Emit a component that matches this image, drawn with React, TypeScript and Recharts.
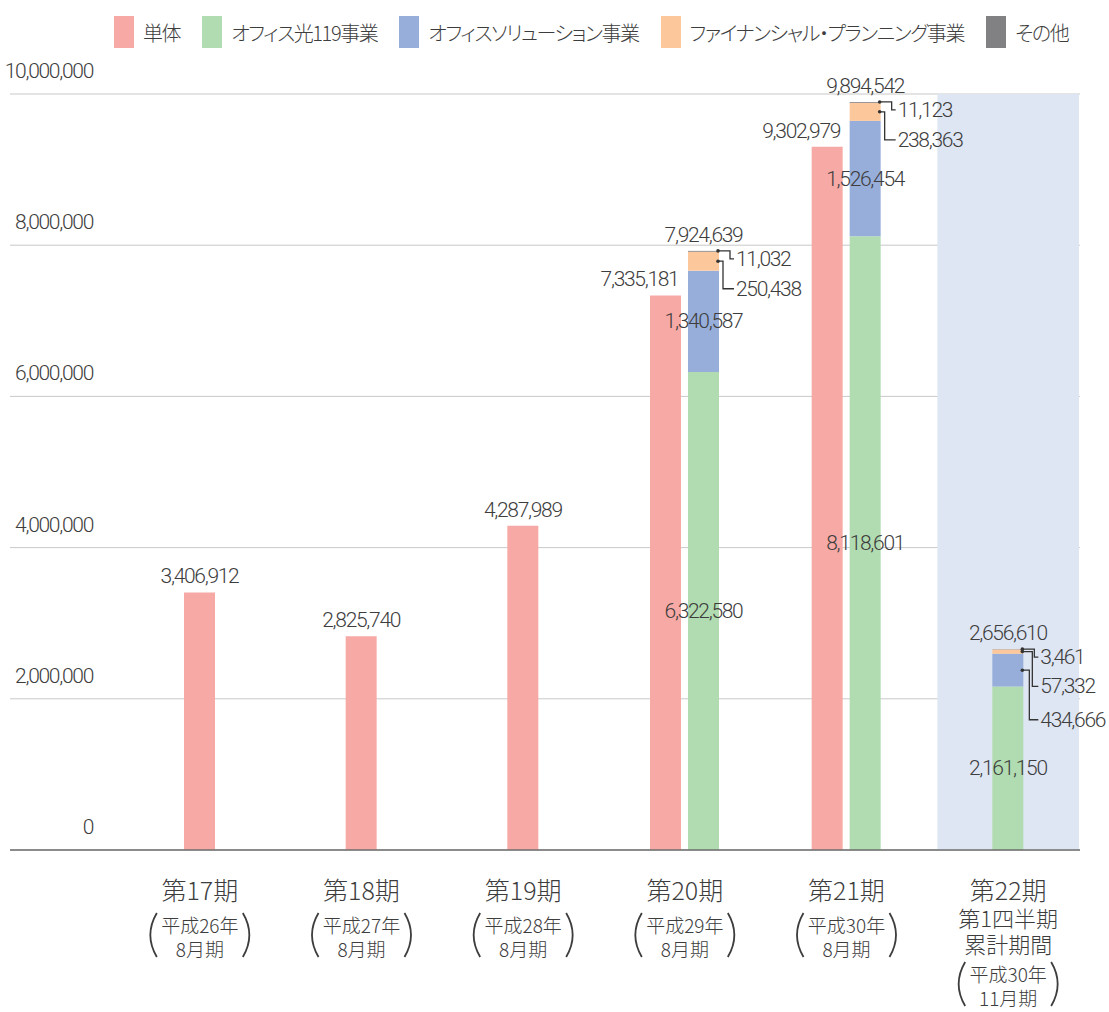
import React from 'react';
import { BarChart, Bar, XAxis, YAxis, CartesianGrid, Legend, LabelList, ReferenceArea } from 'recharts';

// ---- data ----
const periods = ['第17期', '第18期', '第19期', '第20期', '第21期', '第22期'];
const periodSubtitles: string[][] = [[], [], [], [], [], ['第1四半期', '累計期間']];
const periodNotes: string[][] = [
  ['平成26年', '8月期'],
  ['平成27年', '8月期'],
  ['平成28年', '8月期'],
  ['平成29年', '8月期'],
  ['平成30年', '8月期'],
  ['平成30年', '11月期'],
];
const tantai = [3406912, 2825740, 4287989, 7335181, 9302979, null];
const hikari119 = [null, null, null, 6322580, 8118601, 2161150];
const solution = [null, null, null, 1340587, 1526454, 434666];
const planning = [null, null, null, 250438, 238363, 57332];
const others = [null, null, null, 11032, 11123, 3461];
const totals = [null, null, null, 7924639, 9894542, 2656610];
const yTicks = [0, 2000000, 4000000, 6000000, 8000000, 10000000];
const highlightPeriod = '第22期';

const seriesKeys = ['tantai', 'hikari', 'solution', 'planning', 'others'] as const;
const seriesNames: Record<string, string> = {
  tantai: '単体',
  hikari: 'オフィス光119事業',
  solution: 'オフィスソリューション事業',
  planning: 'ファイナンシャル・プランニング事業',
  others: 'その他',
};
const COLORS: Record<string, string> = {
  tantai: '#f6a9a5',
  hikari: '#b1dbb0',
  solution: '#97aedb',
  planning: '#fcc89b',
  others: '#818184',
  shade: '#dfe6f3',
  text: '#3d3d3d',
};

// periods that have both 単体 and segment bars are drawn as a pair; others as a single centred bar
const rows = periods.map((period, i) => {
  const paired = tantai[i] != null && hikari119[i] != null;
  const s = (v: number | null) => (paired ? null : v);
  const p = (v: number | null) => (paired ? v : null);
  return {
    period,
    tantaiS: s(tantai[i]),
    hikariS: s(hikari119[i]),
    solutionS: s(solution[i]),
    planningS: s(planning[i]),
    othersS: s(others[i]),
    totalS: s(totals[i]),
    tantaiP: p(tantai[i]),
    hikariP: p(hikari119[i]),
    solutionP: p(solution[i]),
    planningP: p(planning[i]),
    othersP: p(others[i]),
    totalP: p(totals[i]),
  };
});

// ---- styles / label renderers ----
const numStyle: React.CSSProperties = {
  fontFamily: 'Roboto, "Liberation Sans", sans-serif',
  fontWeight: 300,
  fontSize: 21,
  fill: COLORS.text,
  letterSpacing: -1.3,
};
const cjk = '"Noto Sans CJK JP", "Noto Sans", sans-serif';
const fmt = (v: any) => Number(v).toLocaleString('en-US');
const box = (p: any) => {
  const v = p.viewBox && p.viewBox.width != null ? p.viewBox : p;
  return { x: Number(v.x), y: Number(v.y), width: Number(v.width), height: Number(v.height) };
};

const topLabel = (dx: number) => (p: any) => {
  if (p.value == null || p.value === '') return null;
  const { x, y, width } = box(p);
  return (
    <text x={x + width / 2 + dx} y={y - 16} textAnchor="middle" dominantBaseline="central" style={numStyle}>
      {fmt(p.value)}
    </text>
  );
};

const centerLabel = (p: any) => {
  if (p.value == null || p.value === '') return null;
  const { x, y, width, height } = box(p);
  return (
    <text x={x + width / 2} y={y + height / 2} textAnchor="middle" dominantBaseline="central" style={numStyle}>
      {fmt(p.value)}
    </text>
  );
};

const bracketLabel = (anchor: 'top' | 'mid', lineDx: number, labelDy: number, textDx: number) => (p: any) => {
  if (p.value == null || p.value === '') return null;
  const { x, y, width, height } = box(p);
  const xr = x + width;
  const yDot = anchor === 'top' ? y : y + height / 2;
  const ly = y + labelDy;
  return (
    <g>
      <circle cx={xr - 1} cy={yDot} r={1.8} fill="#333" />
      <path
        d={`M${xr - 1},${yDot} H${xr + lineDx} V${ly} H${xr + textDx - 2}`}
        fill="none"
        stroke="#333"
        strokeWidth={1.3}
      />
      <text x={xr + textDx} y={ly} textAnchor="start" dominantBaseline="central" style={numStyle}>
        {fmt(p.value)}
      </text>
    </g>
  );
};

const tickText = { fontFamily: cjk, fontWeight: 300 } as React.CSSProperties;

const PeriodTick = (props: any) => {
  const { x, y, payload } = props;
  const i = periods.indexOf(payload.value);
  const sub = periodSubtitles[i] || [];
  const note = periodNotes[i] || [];
  const noteTop = sub.length ? 104 : 55;
  const col = COLORS.text;
  return (
    <g>
      <text x={x} y={y + 31} textAnchor="middle" dominantBaseline="central" fill={col}
        style={{ ...tickText, fontSize: 25 }}>
        {payload.value}
      </text>
      {sub.map((s, k) => (
        <text key={k} x={x} y={y + 59 + k * 26} textAnchor="middle" dominantBaseline="central" fill={col}
          style={{ ...tickText, fontSize: 22 }}>
          {s}
        </text>
      ))}
      {note.map((s, k) => (
        <text key={'n' + k} x={x} y={y + noteTop + 11 + k * 24} textAnchor="middle" dominantBaseline="central"
          fill={col} style={{ ...tickText, fontSize: 19 }}>
          {s}
        </text>
      ))}
      <path d={`M${x - 43},${y + noteTop} Q${x - 56},${y + noteTop + 22} ${x - 43},${y + noteTop + 44}`}
        fill="none" stroke={col} strokeWidth={1.8} />
      <path d={`M${x + 43},${y + noteTop} Q${x + 56},${y + noteTop + 22} ${x + 43},${y + noteTop + 44}`}
        fill="none" stroke={col} strokeWidth={1.8} />
    </g>
  );
};

const ValueTick = (props: any) => {
  const { x, y, payload } = props;
  return (
    <text x={x + 75} y={y - 23} textAnchor="end" dominantBaseline="central" style={numStyle}>
      {fmt(payload.value)}
    </text>
  );
};

const LegendContent = () => (
  <div style={{ display: 'flex', alignItems: 'center', paddingLeft: 114 }}>
    {seriesKeys.map((k) => (
      <div key={k} style={{ display: 'flex', alignItems: 'center', marginRight: 22 }}>
        <div style={{ width: 20, height: 32, background: COLORS[k], marginRight: 9 }} />
        <span
          style={{
            fontFamily: cjk,
            fontWeight: 300,
            fontSize: 20,
            letterSpacing: -1.4,
            color: COLORS.text,
            fontFeatureSettings: '"palt" 1',
            whiteSpace: 'nowrap',
          }}
        >
          {seriesNames[k]}
        </span>
      </div>
    ))}
  </div>
);

const shadeShape = (p: any) => (
  <rect x={p.x + 10} y={p.y} width={p.width - 20} height={p.height} fill={COLORS.shade} />
);

export default function App() {
  return (
    <div style={{ position: 'fixed', left: 0, top: 0, width: 1109, height: 1012, background: '#fff' }}>
      <BarChart
        width={1109}
        height={1012}
        data={rows}
        margin={{ top: 94, right: 29, bottom: 2, left: 10 }}
        barGap={7}
      >
        <ReferenceArea
          xAxisId="single"
          x1={highlightPeriod}
          x2={highlightPeriod}
          y1={0}
          y2={10000000}
          shape={shadeShape}
          ifOverflow="visible"
        />
        <CartesianGrid xAxisId="single" vertical={false} stroke="#c9c9c9" strokeWidth={1} />
        <XAxis
          xAxisId="single"
          dataKey="period"
          type="category"
          padding={{ left: 109, right: -9 }}
          height={160}
          tickLine={false}
          axisLine={{ stroke: '#6e6e6e', strokeWidth: 1.5 }}
          tick={<PeriodTick />}
          interval={0}
        />
        <XAxis xAxisId="pair" dataKey="period" type="category" padding={{ left: 109, right: -9 }}
          height={0} hide />
        <YAxis
          domain={[0, 10000000]}
          ticks={yTicks}
          mirror
          axisLine={false}
          tickLine={false}
          tick={<ValueTick />}
          interval={0}
        />
        <Legend
          verticalAlign="middle"
          align="center"
          layout="horizontal"
          wrapperStyle={{ top: 16, left: 0, width: 1109 }}
          content={<LegendContent />}
        />

        {/* single centred bars */}
        <Bar xAxisId="single" dataKey="tantaiS" name={seriesNames.tantai} stackId="s" fill={COLORS.tantai}
          barSize={31} isAnimationActive={false}>
          <LabelList dataKey="tantaiS" content={topLabel(0)} />
        </Bar>
        <Bar xAxisId="single" dataKey="hikariS" name={seriesNames.hikari} stackId="s" fill={COLORS.hikari}
          barSize={31} isAnimationActive={false}>
          <LabelList dataKey="hikariS" content={centerLabel} />
        </Bar>
        <Bar xAxisId="single" dataKey="solutionS" name={seriesNames.solution} stackId="s" fill={COLORS.solution}
          barSize={31} isAnimationActive={false}>
          <LabelList dataKey="solutionS" content={bracketLabel('mid', 6, 66, 17)} />
        </Bar>
        <Bar xAxisId="single" dataKey="planningS" name={seriesNames.planning} stackId="s" fill={COLORS.planning}
          barSize={31} isAnimationActive={false}>
          <LabelList dataKey="planningS" content={bracketLabel('mid', 9, 37, 17)} />
        </Bar>
        <Bar xAxisId="single" dataKey="othersS" name={seriesNames.others} stackId="s" fill={COLORS.others}
          barSize={31} isAnimationActive={false}>
          <LabelList dataKey="othersS" content={bracketLabel('top', 11, 8, 17)} />
          <LabelList dataKey="totalS" content={topLabel(0)} />
        </Bar>

        {/* paired bars */}
        <Bar xAxisId="pair" dataKey="tantaiP" name={seriesNames.tantai} stackId="p" fill={COLORS.tantai}
          barSize={31} legendType="none" isAnimationActive={false}>
          <LabelList dataKey="tantaiP" content={topLabel(-26)} />
        </Bar>
        <Bar xAxisId="pair" dataKey="hikariP" name={seriesNames.hikari} stackId="q" fill={COLORS.hikari}
          barSize={31} legendType="none" isAnimationActive={false}>
          <LabelList dataKey="hikariP" content={centerLabel} />
        </Bar>
        <Bar xAxisId="pair" dataKey="solutionP" name={seriesNames.solution} stackId="q" fill={COLORS.solution}
          barSize={31} legendType="none" isAnimationActive={false}>
          <LabelList dataKey="solutionP" content={centerLabel} />
        </Bar>
        <Bar xAxisId="pair" dataKey="planningP" name={seriesNames.planning} stackId="q" fill={COLORS.planning}
          barSize={31} legendType="none" isAnimationActive={false}>
          <LabelList dataKey="planningP" content={bracketLabel('mid', 4, 37, 17)} />
        </Bar>
        <Bar xAxisId="pair" dataKey="othersP" name={seriesNames.others} stackId="q" fill={COLORS.others}
          barSize={31} legendType="none" isAnimationActive={false}>
          <LabelList dataKey="othersP" content={bracketLabel('top', 11, 8, 17)} />
          <LabelList dataKey="totalP" content={topLabel(0)} />
        </Bar>
      </BarChart>
    </div>
  );
}
